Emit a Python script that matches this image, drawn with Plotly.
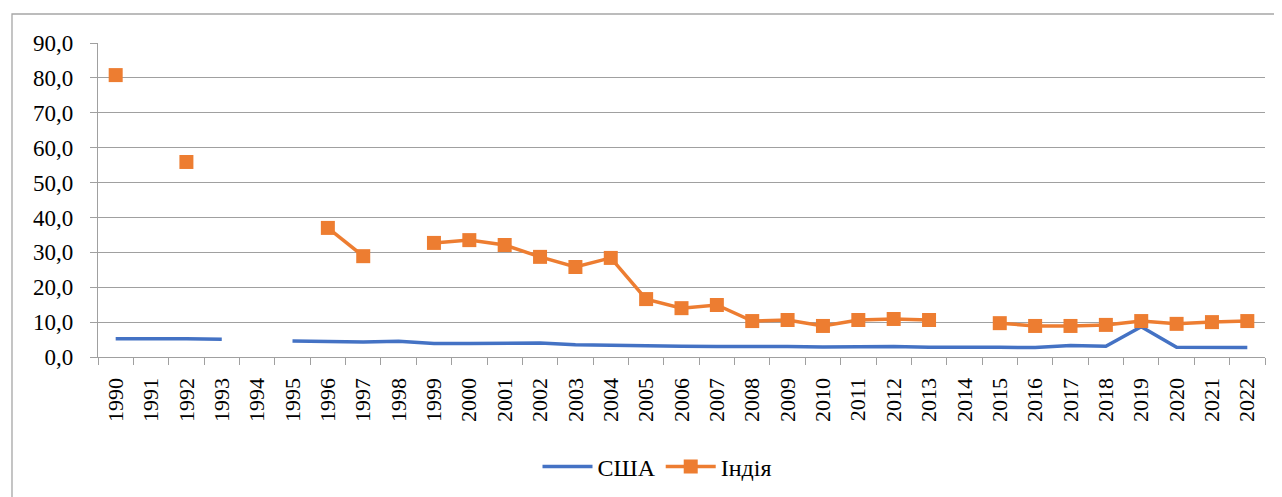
import plotly.graph_objects as go

years = [str(y) for y in range(1990, 2023)]
usa = [5.2, 5.3, 5.2, 5.1, None, 4.6, 4.4, 4.3, 4.5, 3.9, 3.9, 3.9, 4.0, 3.5, 3.3,
       3.2, 3.1, 3.0, 3.1, 3.0, 2.9, 3.0, 3.0, 2.8, 2.9, 2.8, 2.7, 3.3, 3.1, 8.7,
       2.8, 2.7, 2.7]
india = [80.8, None, 55.9, None, None, None, 37.0, 28.9, None, 32.7, 33.5, 32.1, 28.7,
         25.8, 28.4, 16.6, 14.0, 14.9, 10.3, 10.6, 8.9, 10.6, 10.9, 10.6, None, 9.7,
         8.9, 8.9, 9.2, 10.3, 9.5, 10.0, 10.3]
y_ticks = [0, 10, 20, 30, 40, 50, 60, 70, 80, 90]

FONT = "Liberation Serif, Times New Roman, serif"
fig = go.Figure()
fig.add_trace(go.Scatter(x=years, y=usa, name="США", mode="lines",
                         line=dict(color="#4472C4", width=3.5), connectgaps=False))
fig.add_trace(go.Scatter(x=years, y=india, name="Індія", mode="lines+markers",
                         line=dict(color="#ED7D31", width=3.5),
                         marker=dict(symbol="square", size=14, color="#ED7D31"),
                         connectgaps=False))

OFF = 8  # page body margin
L, R, T, B = 98 - OFF, 1282 + OFF - 1265, 43 - OFF, 497 + OFF - 357
PW, PH = 1265 - 98, 357 - 43
fig.update_layout(
    width=1282, height=497,
    margin=dict(l=L, r=R, t=T, b=B, autoexpand=False),
    paper_bgcolor="white", plot_bgcolor="white",
    separators=", ",
    font=dict(family=FONT, size=22, color="black"),
    showlegend=True,
    legend=dict(orientation="h", x=(657 - 98) / PW, xanchor="center",
                y=(357 - 467) / PH, yanchor="middle", itemwidth=50,
                font=dict(family=FONT, size=24)),
    xaxis=dict(type="category", tickangle=-90, showgrid=False,
               showline=True, linecolor="#A0A0A0", linewidth=1.3,
               ticks="outside", ticklen=7, tickcolor="#A0A0A0",
               tickson="boundaries", tickfont=dict(family=FONT, size=22),
               ticklabelstandoff=11,
               range=[-0.5, 32.5]),
    yaxis=dict(range=[0, 90], tickvals=y_ticks, tickformat=".1f",
               showgrid=True, gridcolor="#A0A0A0", gridwidth=1.3,
               showline=True, linecolor="#A0A0A0", linewidth=1.3,
               ticks="outside", ticklen=7, tickcolor="#A0A0A0",
               ticklabelstandoff=12,
               zeroline=False, tickfont=dict(family=FONT, size=23)),
)
fig.add_shape(type="rect", xref="paper", yref="paper",
              x0=(12 - 98) / PW, x1=1.3, y0=-1.0, y1=(357 - 14) / PH,
              line=dict(color="#A6A6A6", width=1.3), fillcolor="rgba(0,0,0,0)",
              layer="below")
fig.write_html("out.html")
